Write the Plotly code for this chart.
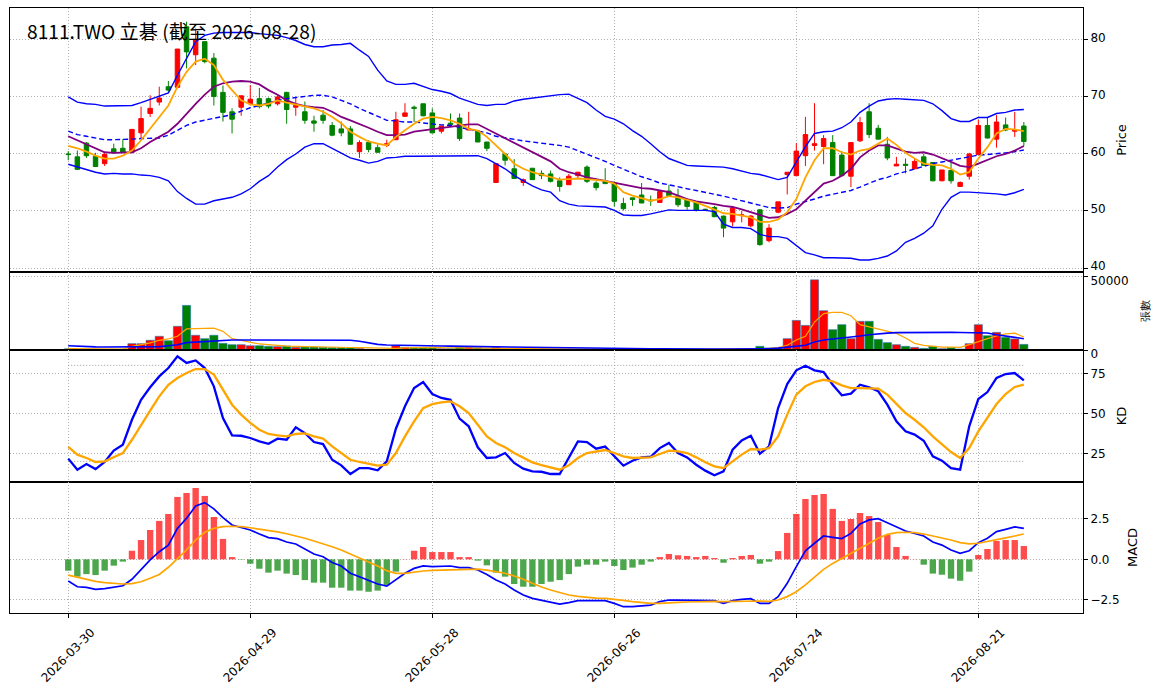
import plotly.graph_objects as go

# ---------------- data ----------------
tick_pos = [0, 20, 40, 60, 80, 100]
tick_dates = ["2026-03-30", "2026-04-29", "2026-05-28", "2026-06-26", "2026-07-24", "2026-08-21"]

open_ = [60.0, 59.5, 61.9, 59.6, 58.3, 60.9, 61.0, 60.3, 63.7, 67.1, 69.1, 71.8, 71.7, 82.3, 77.4, 79.7, 76.8, 70.8, 67.4, 68.2,
         68.8, 69.7, 69.7, 68.8, 70.8, 68.2, 67.4, 65.8, 66.8, 65.0, 64.4, 64.4, 60.4, 62.0, 61.1, 61.5, 62.5, 66.6, 68.2, 68.8,
         67.2, 64.0, 65.4, 66.3, 64.2, 64.0, 62.1, 55.0, 60.0, 57.4, 55.0, 57.5, 56.6, 56.5, 55.3, 54.6, 56.2, 57.7, 54.9, 55.2,
         54.9, 51.3, 52.3, 52.8, 51.9, 51.5, 53.5, 52.6, 52.0, 51.6, 50.3, 50.6, 49.1, 48.1, 49.2, 47.4, 50.2, 44.8, 49.8, 56.4,
         56.2, 59.7, 61.5, 61.3, 62.0, 59.8, 56.1, 62.3, 67.4, 64.5, 61.7, 57.9, 58.2, 57.4, 59.5, 58.5, 55.3, 57.1, 54.3, 56.1,
         59.9, 65.0, 62.6, 65.1, 64.0, 64.9]
high = [60.5, 60.6, 62.1, 60.2, 60.2, 61.8, 62.6, 64.4, 68.3, 70.3, 71.8, 72.8, 78.4, 83.2, 82.0, 79.7, 77.7, 72.0, 68.0, 70.2,
        72.1, 71.6, 69.9, 70.3, 70.9, 70.0, 69.2, 66.7, 67.7, 65.6, 65.7, 64.9, 62.4, 62.4, 61.7, 62.5, 67.4, 68.9, 68.5, 68.8,
        68.0, 64.9, 67.1, 67.1, 67.4, 64.0, 62.1, 58.3, 60.0, 59.1, 55.7, 57.5, 57.1, 57.1, 55.9, 56.5, 56.8, 58.0, 55.2, 57.5,
        55.2, 52.3, 52.3, 54.9, 52.7, 53.4, 54.6, 53.9, 52.2, 51.6, 50.4, 50.9, 49.2, 50.9, 50.0, 49.3, 50.3, 47.7, 51.6, 56.8,
        61.9, 66.5, 68.9, 63.3, 63.3, 60.5, 62.0, 66.5, 68.9, 65.1, 63.0, 59.5, 59.2, 59.2, 60.0, 58.5, 57.2, 58.5, 55.2, 60.2,
        66.0, 66.5, 66.8, 66.4, 67.4, 65.6]
low = [58.9, 57.2, 59.3, 57.7, 57.9, 60.1, 60.2, 60.1, 62.7, 66.5, 68.5, 70.9, 71.5, 75.0, 75.6, 75.9, 68.5, 65.7, 63.6, 66.7,
       68.5, 68.0, 68.0, 68.5, 65.3, 66.7, 65.3, 63.9, 65.3, 63.1, 63.1, 61.7, 59.3, 60.3, 60.2, 61.2, 62.5, 66.6, 65.6, 66.6,
       63.6, 63.6, 65.0, 62.3, 64.2, 62.1, 60.5, 55.0, 58.0, 55.6, 54.4, 55.5, 55.6, 55.0, 53.4, 54.6, 55.6, 54.9, 53.6, 54.8,
       50.8, 50.1, 50.9, 51.4, 50.9, 51.4, 52.7, 50.7, 50.2, 49.9, 50.0, 48.9, 45.4, 47.3, 48.0, 47.1, 43.9, 44.5, 49.6, 52.9,
       56.2, 57.9, 60.6, 58.2, 56.2, 56.2, 54.2, 62.1, 62.8, 62.6, 58.9, 57.9, 56.6, 57.3, 58.0, 55.2, 55.2, 54.8, 54.2, 55.5,
       59.8, 62.7, 61.1, 64.0, 63.0, 61.4]
close = [59.9, 57.3, 59.7, 57.8, 59.9, 60.2, 60.3, 64.3, 66.2, 68.0, 69.8, 71.2, 78.4, 77.9, 80.1, 76.2, 70.1, 67.3, 66.1, 70.2,
         69.6, 68.3, 68.4, 70.0, 67.8, 68.5, 65.9, 65.4, 65.9, 63.3, 63.7, 61.7, 62.0, 60.8, 60.3, 61.8, 66.0, 67.2, 68.0, 66.7,
         63.7, 64.9, 65.2, 62.7, 64.4, 62.1, 61.0, 58.3, 58.9, 55.7, 55.5, 55.5, 56.2, 55.2, 54.3, 56.1, 56.8, 55.2, 54.1, 54.8,
         51.7, 50.4, 52.0, 51.4, 51.8, 53.4, 52.7, 51.1, 50.8, 50.1, 50.2, 49.0, 47.0, 50.5, 49.3, 49.1, 44.1, 47.0, 51.6, 56.8,
         60.5, 63.4, 61.8, 62.7, 56.2, 56.2, 62.0, 65.5, 63.4, 62.6, 59.3, 58.2, 58.0, 58.7, 58.0, 55.3, 57.2, 55.3, 55.0, 60.0,
         65.0, 62.8, 65.6, 64.2, 64.2, 62.2]

ma5 = [61.4, 61.0, 60.4, 59.7, 59.2, 59.2, 59.7, 60.6, 62.4, 64.4, 66.5, 68.5, 71.8, 74.4, 76.2, 76.7, 75.6, 73.0, 71.2, 69.4,
       68.7, 68.5, 68.8, 69.4, 69.0, 68.7, 68.3, 68.0, 67.4, 66.5, 65.4, 63.9, 63.0, 62.2, 61.8, 61.5, 63.0, 64.1, 65.3, 66.2,
       66.5, 66.3, 65.9, 65.3, 64.4, 64.1, 63.0, 61.5, 60.0, 58.3, 57.4, 56.8, 56.4, 55.9, 55.5, 55.6, 55.7, 55.6, 55.5, 55.3,
       54.8, 53.3, 52.7, 52.2, 51.8, 52.1, 52.6, 52.4, 52.0, 51.5, 50.9, 50.3, 49.6, 49.5, 49.2, 48.9, 48.1, 48.1, 48.5, 49.8,
       52.1, 55.9, 58.9, 61.0, 61.0, 60.3, 59.9, 60.6, 60.9, 61.8, 62.7, 61.6, 60.2, 59.2, 58.3, 58.1, 58.0, 57.4, 56.4, 56.8,
       59.2, 61.2, 63.6, 64.4, 64.3, 64.0]
ma10 = [63.1, 62.4, 61.6, 60.9, 60.3, 60.2, 60.2, 60.3, 61.0, 62.1, 63.0, 63.9, 65.3, 67.1, 68.8, 70.4, 71.8, 72.4, 72.7, 72.8,
        72.7, 72.2, 71.2, 70.4, 69.4, 68.8, 68.4, 68.2, 68.1, 67.4, 66.5, 65.9, 65.3, 64.6, 63.9, 63.3, 63.3, 63.4, 63.9, 64.1,
        64.3, 64.6, 64.7, 64.9, 65.2, 65.2, 64.4, 63.6, 62.8, 62.0, 61.2, 60.4, 59.5, 58.7, 57.4, 56.8, 56.4, 55.9, 55.6, 55.3,
        54.9, 54.6, 54.3, 54.0, 53.9, 53.6, 53.3, 52.7, 52.1, 51.7, 51.5, 51.2, 50.9, 50.7, 50.3, 49.8, 49.2, 48.8, 48.9, 49.5,
        50.3, 51.8, 53.3, 54.8, 55.3, 56.2, 57.4, 59.4, 60.6, 61.5, 61.5, 61.0, 60.4, 60.2, 60.3, 59.9, 59.3, 58.6, 57.9, 57.7,
        58.3, 58.9, 59.6, 60.0, 60.6, 61.4]
bb_mid = [64.0, 63.4, 63.1, 62.8, 62.5, 62.5, 62.5, 62.6, 62.7, 62.8, 62.8, 63.3, 64.1, 65.0, 65.6, 65.9, 66.2, 66.5, 66.9, 67.5,
          68.1, 68.5, 69.0, 69.4, 69.7, 69.9, 70.2, 70.3, 70.3, 70.0, 69.4, 68.8, 68.0, 67.3, 66.5, 65.9, 65.8, 65.6, 65.6, 65.4,
          65.3, 65.1, 65.0, 64.7, 64.4, 64.1, 63.7, 63.1, 62.8, 62.5, 62.3, 62.1, 61.9, 61.8, 61.5, 61.2, 60.6, 60.0, 59.3, 58.7,
          58.0, 57.3, 56.7, 56.0, 55.5, 54.9, 54.6, 54.2, 53.9, 53.6, 53.3, 53.0, 52.6, 52.2, 51.8, 51.4, 50.9, 50.6, 50.5, 50.6,
          51.2, 51.6, 52.1, 52.6, 52.9, 53.2, 53.6, 54.2, 54.9, 55.5, 55.9, 56.5, 56.9, 57.4, 57.9, 58.3, 58.6, 58.9, 59.2, 59.6,
          59.8, 59.9, 60.0, 60.2, 60.4, 60.7]
bb_upper = [70.0, 69.1, 68.8, 68.7, 68.4, 68.4, 68.4, 68.5, 69.0, 69.6, 70.1, 70.7, 73.8, 76.8, 79.7, 80.8, 81.2, 81.3, 81.3, 81.4,
            81.3, 81.1, 81.0, 80.8, 80.4, 79.9, 79.2, 78.8, 78.8, 79.1, 79.2, 79.4, 78.2, 77.1, 74.7, 72.8, 72.2, 72.2, 72.4, 71.9,
            71.3, 71.0, 70.6, 69.8, 69.3, 68.7, 68.5, 68.7, 68.7, 69.3, 69.6, 69.8, 70.1, 70.2, 70.4, 70.5, 69.8, 69.0, 67.7, 66.6,
            66.1, 65.3, 64.1, 63.1, 61.8, 60.4, 59.2, 58.6, 58.0, 57.9, 57.8, 57.8, 57.7, 57.4, 57.0, 56.6, 56.4, 55.9, 55.5, 55.9,
            58.6, 61.3, 63.6, 63.9, 64.0, 64.6, 65.6, 67.3, 68.4, 69.3, 69.6, 69.7, 69.6, 69.5, 69.4, 68.8, 67.6, 66.2, 65.7, 65.7,
            66.4, 66.4, 67.1, 67.3, 67.7, 67.8]
bb_lower = [58.2, 57.7, 57.2, 56.8, 56.5, 56.6, 56.5, 56.5, 56.3, 56.2, 55.9, 55.3, 53.4, 52.2, 51.2, 51.2, 51.8, 52.1, 52.4, 53.0,
            53.9, 55.2, 56.2, 57.7, 59.0, 60.0, 61.2, 61.8, 61.8, 61.0, 60.2, 59.3, 58.9, 58.4, 58.7, 59.3, 59.4, 59.6, 59.6, 59.6,
            59.6, 59.6, 59.6, 59.7, 59.7, 59.7, 59.2, 58.3, 57.4, 56.2, 55.3, 54.4, 53.7, 53.3, 51.8, 51.2, 50.9, 50.8, 50.7, 50.7,
            50.1, 49.3, 49.2, 49.2, 49.5, 49.9, 50.2, 50.1, 50.1, 50.1, 50.1, 49.9, 47.7, 47.1, 47.1, 46.9, 45.9, 45.5, 45.5, 45.2,
            43.9, 42.7, 42.3, 41.8, 41.8, 41.8, 41.7, 41.4, 41.4, 41.7, 42.1, 43.0, 44.5, 45.2, 46.1, 47.4, 50.3, 52.4, 53.3, 53.3,
            53.2, 53.2, 53.0, 52.8, 53.2, 53.8]

volume = [800, 600, 500, 500, 400, 500, 600, 4300, 4300, 6600, 9300, 6300, 16100, 30300, 10000, 7700, 10000, 4500, 3600, 3600,
          2900, 2900, 2500, 2300, 2700, 1800, 2000, 2000, 1800, 1600, 1600, 1600, 1100, 500, 300, 300, 2900, 1800, 1600, 1600,
          1600, 900, 900, 1800, 1800, 1400, 900, 1800, 900, 900, 500, 500, 900, 700, 600, 500, 500, 600, 500, 400,
          700, 500, 400, 500, 400, 500, 400, 500, 400, 400, 300, 400, 600, 500, 400, 500, 2500, 1400, 1400, 7700,
          20100, 16700, 47700, 26700, 13800, 17200, 7700, 19500, 19500, 7200, 5000, 3600, 2500, 1800, 1100, 2500, 900, 1600, 700, 4300,
          17200, 9700, 12000, 8600, 7500, 3800]
vol_ma5 = [1000, 900, 800, 700, 600, 600, 600, 2500, 3600, 4800, 6600, 7500, 9300, 14300, 14500, 14700, 14900, 12700, 7700, 6600,
           5200, 4100, 3600, 2900, 2700, 2500, 2300, 2100, 2000, 1900, 1800, 1700, 1600, 1400, 1100, 1000, 1100, 1400, 1600, 1700,
           1800, 1600, 1500, 1500, 1500, 1400, 1400, 1400, 1300, 1200, 1100, 1000, 800, 700, 700, 600, 600, 600, 500, 500,
           500, 500, 500, 500, 500, 400, 400, 400, 400, 400, 400, 400, 400, 400, 500, 500, 900, 1100, 1600, 3200,
           6800, 9300, 19000, 24700, 25600, 25600, 23300, 17200, 15600, 14500, 12700, 11300, 8100, 4500, 3200, 2500, 2000, 1900, 1800, 3600,
           5900, 7700, 9500, 10900, 11500, 8800]
vol_ma20 = [2900, 2500, 2200, 2100, 2000, 2000, 2000, 2100, 2100, 2200, 2300, 2900, 3600, 5000, 5400, 5700, 6300, 6600, 6800, 6800,
            6800, 6800, 6900, 6900, 6900, 6900, 6900, 6900, 6900, 6800, 6700, 6600, 5900, 4800, 3800, 3400, 3200, 3200, 3100, 3000,
            2900, 2700, 2600, 2500, 2400, 2300, 2200, 2100, 2000, 1900, 1800, 1700, 1600, 1500, 1400, 1400, 1300, 1200, 1200, 1100,
            1000, 900, 900, 800, 800, 800, 700, 700, 700, 700, 700, 700, 700, 700, 700, 700, 800, 900, 1300, 2000,
            2900, 3200, 5400, 6800, 7500, 8100, 8600, 9500, 10400, 11100, 11500, 11800, 11900, 12000, 12000, 12000, 12000, 12000, 11900, 11900,
            11800, 11600, 10400, 9300, 8600, 7700]

k_line = [21.7, 14.8, 18.3, 15.2, 19.6, 26.7, 30.4, 46.0, 58.5, 66.3, 73.1, 78.3, 85.6, 81.5, 83.1, 78.3, 66.9, 47.1, 36.3, 36.0,
          34.6, 32.5, 31.0, 34.2, 33.5, 41.3, 37.7, 32.1, 30.8, 21.0, 17.5, 12.1, 15.8, 15.8, 14.4, 20.0, 40.4, 54.4, 65.8, 69.6,
          62.1, 59.6, 58.5, 46.7, 41.9, 28.8, 22.1, 22.5, 25.2, 19.0, 15.4, 13.8, 13.5, 12.1, 12.1, 22.1, 32.5, 32.1, 27.9, 29.2,
          23.1, 17.3, 20.4, 22.5, 22.9, 28.3, 31.5, 25.2, 22.5, 17.9, 14.2, 11.3, 13.8, 27.3, 33.1, 36.0, 24.8, 29.4, 53.3, 68.3,
          76.9, 79.8, 76.9, 75.8, 67.9, 61.3, 62.3, 67.9, 66.3, 63.8, 55.4, 45.0, 38.8, 36.7, 32.9, 23.1, 20.4, 15.8, 14.8, 41.9,
          59.0, 63.3, 72.1, 74.6, 75.2, 70.6]
d_line = [29.0, 24.2, 22.1, 19.6, 20.0, 22.5, 25.2, 33.5, 42.9, 51.7, 60.6, 67.9, 72.1, 75.2, 77.7, 77.7, 74.2, 64.8, 55.4, 49.2,
          44.0, 39.8, 37.1, 36.3, 35.6, 37.1, 37.5, 35.6, 34.2, 29.4, 25.2, 21.0, 19.6, 18.3, 17.3, 17.9, 25.2, 35.6, 45.0, 53.3,
          55.8, 56.9, 57.5, 54.4, 50.2, 42.9, 35.6, 31.5, 28.8, 25.2, 22.1, 19.4, 17.6, 16.3, 14.8, 17.5, 22.1, 25.2, 26.3, 27.1,
          25.2, 23.1, 22.1, 22.1, 22.5, 24.6, 26.7, 26.3, 25.2, 22.5, 19.4, 16.9, 15.8, 20.0, 24.2, 27.7, 27.3, 28.3, 35.6, 49.2,
          61.7, 66.9, 69.6, 71.0, 70.0, 67.5, 65.8, 65.8, 65.8, 65.4, 61.7, 55.8, 50.2, 46.0, 41.3, 35.6, 30.8, 25.8, 22.1, 28.3,
          38.8, 47.5, 55.8, 62.1, 66.5, 67.9]

macd_hist = [-0.70, -1.07, -0.91, -0.97, -0.70, -0.39, -0.14, 0.53, 1.19, 1.81, 2.37, 2.80, 3.85, 4.09, 4.40, 3.91, 2.61, 1.26, 0.14, -0.02,
             -0.27, -0.58, -0.82, -0.70, -0.88, -0.97, -1.28, -1.44, -1.44, -1.75, -1.75, -1.93, -1.93, -2.00, -1.93, -1.58, -0.76, 0.01, 0.53, 0.76,
             0.45, 0.45, 0.45, 0.14, 0.14, -0.08, -0.37, -0.82, -1.07, -1.52, -1.69, -1.69, -1.52, -1.38, -1.28, -0.91, -0.45, -0.33, -0.33, -0.14,
             -0.41, -0.66, -0.51, -0.33, -0.14, 0.14, 0.33, 0.25, 0.21, 0.14, 0.21, 0.08, -0.21, 0.08, 0.21, 0.27, -0.27, -0.14, 0.51, 1.63,
             2.80, 3.72, 3.97, 4.03, 3.11, 2.37, 2.49, 2.86, 2.67, 2.30, 1.50, 0.76, 0.21, 0.01, -0.33, -0.88, -0.95, -1.19, -1.32, -0.76,
             0.27, 0.64, 1.13, 1.19, 1.19, 0.82]
dif = [-1.34, -1.69, -1.73, -1.85, -1.81, -1.73, -1.63, -1.23, -0.62, -0.04, 0.47, 0.88, 1.91, 2.53, 3.29, 3.50, 3.11, 2.57, 2.12, 1.98,
       1.81, 1.56, 1.34, 1.28, 1.07, 0.95, 0.62, 0.33, 0.16, -0.19, -0.41, -0.86, -1.07, -1.28, -1.52, -1.65, -1.28, -0.86, -0.56, -0.41,
       -0.45, -0.45, -0.41, -0.51, -0.51, -0.66, -0.93, -1.28, -1.52, -1.89, -2.20, -2.41, -2.53, -2.63, -2.76, -2.67, -2.55, -2.55, -2.55, -2.55,
       -2.72, -2.92, -2.92, -2.88, -2.82, -2.61, -2.51, -2.51, -2.51, -2.51, -2.51, -2.55, -2.72, -2.55, -2.47, -2.43, -2.72, -2.72, -2.30, -1.48,
       -0.45, 0.53, 0.99, 1.44, 1.36, 1.28, 1.60, 2.18, 2.43, 2.51, 2.26, 1.98, 1.75, 1.60, 1.44, 1.07, 0.88, 0.58, 0.37, 0.53,
       1.03, 1.30, 1.71, 1.85, 2.00, 1.91]
dea = [-0.97, -1.11, -1.23, -1.36, -1.44, -1.50, -1.52, -1.50, -1.38, -1.17, -0.93, -0.49, 0.02, 0.58, 1.19, 1.67, 1.91, 2.02, 2.04, 2.02,
       1.95, 1.87, 1.79, 1.69, 1.58, 1.46, 1.30, 1.13, 0.97, 0.78, 0.58, 0.33, 0.10, -0.14, -0.41, -0.70, -0.86, -0.86, -0.78, -0.72,
       -0.68, -0.66, -0.62, -0.60, -0.58, -0.60, -0.66, -0.76, -0.86, -1.03, -1.23, -1.48, -1.71, -1.89, -2.06, -2.20, -2.28, -2.35, -2.39, -2.41,
       -2.45, -2.53, -2.61, -2.67, -2.72, -2.72, -2.67, -2.65, -2.63, -2.61, -2.61, -2.59, -2.61, -2.59, -2.57, -2.55, -2.57, -2.59, -2.51, -2.30,
       -2.00, -1.58, -1.07, -0.62, -0.25, 0.06, 0.33, 0.68, 0.99, 1.30, 1.54, 1.65, 1.67, 1.65, 1.56, 1.44, 1.32, 1.19, 1.03, 0.95,
       0.99, 1.09, 1.19, 1.32, 1.44, 1.56]

# ---------------- figure ----------------
idx = list(range(len(close)))
RED, GREEN = "#ff0000", "#008000"
vol_colors = [RED if c >= o else GREEN for o, c in zip(open_, close)]
hist_colors = ["rgba(255,0,0,0.7)" if v >= 0 else "rgba(0,128,0,0.7)" for v in macd_hist]
DOT = "1px,2px"

fig = go.Figure()

# main price panel
fig.add_trace(go.Candlestick(
    x=idx, open=open_, high=high, low=low, close=close,
    increasing=dict(line=dict(color=RED, width=1), fillcolor=RED),
    decreasing=dict(line=dict(color=GREEN, width=1), fillcolor=GREEN),
    whiskerwidth=0, xaxis="x", yaxis="y", showlegend=False, hoverinfo="skip"))
fig.add_trace(go.Scatter(x=idx, y=bb_upper, mode="lines", line=dict(color="#0000ff", width=1.4), xaxis="x", yaxis="y"))
fig.add_trace(go.Scatter(x=idx, y=bb_lower, mode="lines", line=dict(color="#0000ff", width=1.4), xaxis="x", yaxis="y"))
fig.add_trace(go.Scatter(x=idx, y=bb_mid, mode="lines", line=dict(color="#0000ff", width=1.4, dash="5px,3px"), xaxis="x", yaxis="y"))
fig.add_trace(go.Scatter(x=idx, y=ma10, mode="lines", line=dict(color="#800080", width=1.8), xaxis="x", yaxis="y"))
fig.add_trace(go.Scatter(x=idx, y=ma5, mode="lines", line=dict(color="#ffa500", width=1.8), xaxis="x", yaxis="y"))

# volume panel
fig.add_trace(go.Bar(x=idx, y=volume, width=0.9, marker=dict(color=vol_colors, line=dict(color="#1f77b4", width=0.6)),
                     xaxis="x2", yaxis="y2"))
fig.add_trace(go.Scatter(x=idx, y=vol_ma5, mode="lines", line=dict(color="#ffa500", width=1.2), xaxis="x2", yaxis="y2"))
fig.add_trace(go.Scatter(x=idx, y=vol_ma20, mode="lines", line=dict(color="#0000ff", width=1.6), xaxis="x2", yaxis="y2"))

# KD panel
fig.add_trace(go.Scatter(x=[idx[0], idx[-1]], y=[80, 80], mode="lines", line=dict(color="#999999", width=1, dash=DOT), xaxis="x3", yaxis="y3"))
fig.add_trace(go.Scatter(x=[idx[0], idx[-1]], y=[20, 20], mode="lines", line=dict(color="#999999", width=1, dash=DOT), xaxis="x3", yaxis="y3"))
fig.add_trace(go.Scatter(x=idx, y=k_line, mode="lines", line=dict(color="#0000ff", width=2.3), xaxis="x3", yaxis="y3"))
fig.add_trace(go.Scatter(x=idx, y=d_line, mode="lines", line=dict(color="#ffa500", width=2.3), xaxis="x3", yaxis="y3"))

# MACD panel
fig.add_trace(go.Bar(x=idx, y=macd_hist, width=0.7, marker=dict(color=hist_colors, line=dict(width=0)), xaxis="x4", yaxis="y4"))
fig.add_trace(go.Scatter(x=idx, y=dif, mode="lines", line=dict(color="#0000ff", width=1.7), xaxis="x4", yaxis="y4"))
fig.add_trace(go.Scatter(x=idx, y=dea, mode="lines", line=dict(color="#ffa500", width=1.7), xaxis="x4", yaxis="y4"))

TICKFONT = dict(family="DejaVu Sans", size=12, color="black")
GRID = dict(showgrid=True, gridcolor="#b0b0b0", griddash=DOT, gridwidth=1)
XR = [-6.4, 111.5]


def xax(anchor, showticks):
    return dict(domain=[0, 1], anchor=anchor, range=XR, tickmode="array", tickvals=tick_pos,
                showticklabels=False, ticks="outside" if showticks else "", ticklen=4, tickcolor="black",
                showline=True, linecolor="black", linewidth=1, mirror=True, zeroline=False, **GRID)


def yax(domain, rng, tickvals, ticktext, title, tsize=13, standoff=12, shift=0):
    return dict(domain=domain, range=rng, side="right", tickmode="array", tickvals=tickvals, ticktext=ticktext,
                ticks="outside", ticklen=4, tickcolor="black", tickfont=TICKFONT, ticklabelshift=shift,
                showline=True, linecolor="black", linewidth=1, mirror=True, zeroline=False,
                title=dict(text=title, font=dict(family="DejaVu Sans", size=tsize, color="black"), standoff=standoff), **GRID)


H = 605.0
d4 = [0, 131 / H]
d3 = [131 / H, 263 / H]
d2 = [263 / H, 341 / H]
d1 = [341 / H, 1]

fig.update_layout(
    width=1163, height=698, paper_bgcolor="white", plot_bgcolor="white",
    margin=dict(l=10, r=80, t=8, b=85), showlegend=False, barmode="overlay",
    xaxis=dict(xax("y", False), rangeslider=dict(visible=False)),
    xaxis2=dict(xax("y2", False), matches="x"),
    xaxis3=dict(xax("y3", False), matches="x"),
    xaxis4=dict(xax("y4", True), matches="x"),
    yaxis=yax(d1, [39.3, 85.6], [40, 50, 60, 70, 80], ["40", "50", "60", "70", "80"], "Price", standoff=12, shift=-2),
    yaxis2=yax(d2, [0, 53000], [0, 50000], ["0", "50000"], "張數", 11, standoff=13, shift=4),
    yaxis3=yax(d3, [7.1, 89.6], [25, 50, 75], ["25", "50", "75"], "KD", standoff=12),
    yaxis4=yax(d4, [-3.31, 4.77], [-2.5, 0, 2.5], ["\u22122.5", "0.0", "2.5"], "MACD", standoff=9),
)

# title inside main panel
fig.add_annotation(text="8111.TWO 立碁 (截至 2026-08-28)", xref="paper", yref="paper", x=0.014, y=(613 - 31) / H,
                   xanchor="left", yanchor="middle", showarrow=False,
                   font=dict(family="Noto Sans CJK TC", size=19.2, color="black"))

# rotated date labels centred under their ticks
for p, t in zip(tick_pos, tick_dates):
    fig.add_annotation(text=t, x=p, xref="x4", y=(613 - 655) / H, yref="paper", textangle=-45,
                       xanchor="center", yanchor="middle", showarrow=False, font=TICKFONT)

fig.write_html("out.html", config={"displayModeBar": False},
               post_script="document.body.style.margin='0px';")
